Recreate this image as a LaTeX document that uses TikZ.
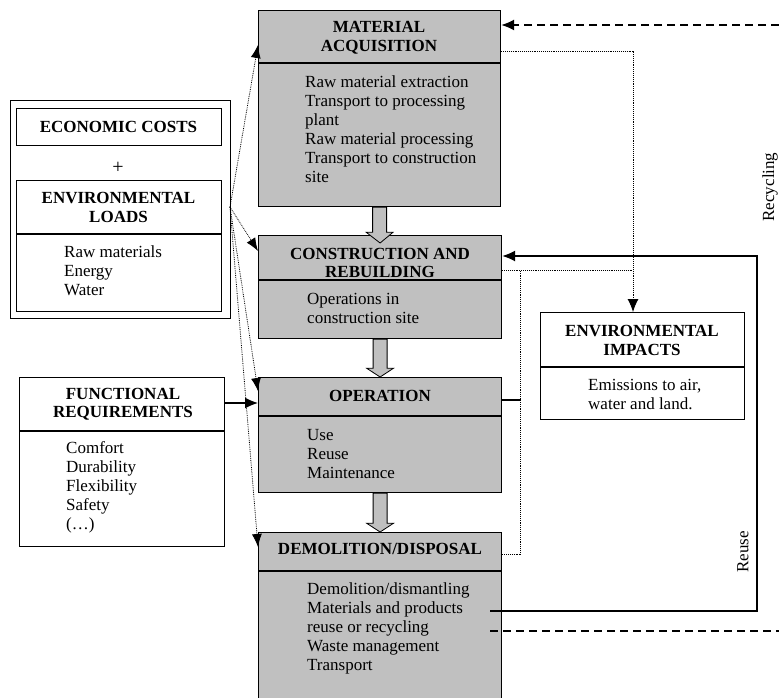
\documentclass[tikz,border=0pt]{standalone}
\usepackage{fontspec}
\setmainfont{Liberation Serif}
\usetikzlibrary{calc,arrows.meta}
\definecolor{boxgray}{RGB}{192,192,192}
\begin{document}
\begin{tikzpicture}[x=1pt,y=-1pt,
  box/.style={draw, line width=1.2pt, inner sep=0pt, anchor=north west},
  gbox/.style={box, fill=boxgray},
  hdr/.style={font=\fontsize{17}{18.5}\selectfont\bfseries, align=center, inner sep=0pt},
  body/.style={font=\fontsize{17}{19}\selectfont, align=left, inner sep=0pt, anchor=west},
  divline/.style={line width=1.2pt},
  fanline/.style={densely dotted, line width=0.8pt, -{Latex[length=13pt,width=10pt]}},
  dotline/.style={densely dotted, line width=0.9pt},
  solidline/.style={line width=1.3pt},
  dashline/.style={dash pattern=on 8pt off 5pt, line width=1.3pt},
  tip/.style={-{Latex[length=13pt,width=11pt]}},
  blockarrow/.style={fill=boxgray, draw, line width=0.8pt},
  vlabel/.style={font=\fontsize{17}{19}\selectfont, rotate=90, inner sep=0pt}
]
\useasboundingbox (0,0) rectangle (779,698);

% ---- central column ----
\node (ma) [gbox, minimum width=242pt, minimum height=196pt] at (258,10) {};
\node (cr) [gbox, minimum width=243pt, minimum height=103pt] at (258,235) {};
\node (op) [gbox, minimum width=243pt, minimum height=115pt] at (258,377) {};
\node (dd) [gbox, minimum width=243pt, minimum height=180pt] at (258,532) {};

\draw[divline] ($(ma.north west)+(0,53)$) -- ($(ma.north east)+(0,53)$);
\draw[divline] ($(cr.north west)+(0,45)$) -- ($(cr.north east)+(0,45)$);
\draw[divline] ($(op.north west)+(0,39)$) -- ($(op.north east)+(0,39)$);
\draw[divline] ($(dd.north west)+(0,39)$) -- ($(dd.north east)+(0,39)$);

\node (mah) [hdr] at (379,38) {MATERIAL\\ACQUISITION};
\node (mab) [body] at (305,129.5) {Raw material extraction\\Transport to processing\\plant\\Raw material processing\\Transport to construction\\site};
\node (crh) [hdr] at (380,263) {CONSTRUCTION AND\\REBUILDING};
\node (crb) [body] at (307,308) {Operations in\\construction site};
\node (oph) [hdr] at (380,396) {OPERATION};
\node (opb) [body] at (307,454) {Use\\Reuse\\Maintenance};
\node (ddh) [hdr] at (380,549) {DEMOLITION/DISPOSAL};
\node (ddb) [body] at (307,628) {Demolition/dismantling\\Materials and products\\reuse or recycling\\Waste management\\Transport};

% block arrows
\draw[blockarrow] ($(ma.south)+(-7,0)$) -- ($(ma.south)+(7,0)$) -- ($(ma.south)+(7,25)$) -- ($(ma.south)+(13.5,25)$)
  -- ($(cr.north)+(0,8)$) -- ($(ma.south)+(-13.5,25)$) -- ($(ma.south)+(-7,25)$) -- cycle;
\draw[blockarrow] ($(cr.south)+(-7,0)$) -- ($(cr.south)+(7,0)$) -- ($(cr.south)+(7,29)$) -- ($(cr.south)+(13.5,29)$)
  -- (op.north) -- ($(cr.south)+(-13.5,29)$) -- ($(cr.south)+(-7,29)$) -- cycle;
\draw[blockarrow] ($(op.south)+(-7,0)$) -- ($(op.south)+(7,0)$) -- ($(op.south)+(7,30)$) -- ($(op.south)+(13.5,30)$)
  -- (dd.north) -- ($(op.south)+(-13.5,30)$) -- ($(op.south)+(-7,30)$) -- cycle;

% ---- left boxes ----
\node (outer) [box, minimum width=220pt, minimum height=218pt] at (10,100) {};
\node (ec) [box, minimum width=205pt, minimum height=37pt] at (16,108) {};
\node (ech) [hdr] at (118.5,126.5) {ECONOMIC COSTS};
\node (plus) [font=\fontsize{20}{22}\selectfont, inner sep=0pt] at (118,168) {+};
\node (el) [box, minimum width=205pt, minimum height=131pt] at (16,180) {};
\draw[divline] ($(el.north west)+(0,54)$) -- ($(el.north east)+(0,54)$);
\node (elh) [hdr] at (118.5,207.5) {ENVIRONMENTAL\\LOADS};
\node (elb) [body] at (64,271) {Raw materials\\Energy\\Water};

\node (fr) [box, minimum width=205pt, minimum height=169pt] at (19,377) {};
\draw[divline] ($(fr.north west)+(0,54)$) -- ($(fr.north east)+(0,54)$);
\node (frh) [hdr] at (123,404) {FUNCTIONAL\\REQUIREMENTS};
\node (frb) [body] at (66,487) {Comfort\\Durability\\Flexibility\\Safety\\(\dots)};

% ---- environmental impacts ----
\node (ei) [box, minimum width=204pt, minimum height=107pt] at (540,312) {};
\draw[divline] ($(ei.north west)+(0,55)$) -- ($(ei.north east)+(0,55)$);
\node (eih) [hdr] at (642,340.5) {ENVIRONMENTAL\\IMPACTS};
\node (eib) [body] at (588,394.5) {Emissions to air,\\water and land.};

% ---- fan of arrows ----
\coordinate (fan) at (230,207);
\draw[fanline] (fan) -- ($(ma.north west)+(0,35)$);
\draw[fanline] (fan) -- ($(cr.north west)+(0,16)$);
\draw[fanline] (fan) -- ($(op.north west)+(0,14)$);
\draw[fanline] (fan) -- ($(dd.north west)+(0,15)$);
\draw[solidline, tip] ($(fr.north east)+(0,26)$) -- ($(op.north west)+(0,26)$);

% ---- dotted flows to impacts ----
\coordinate (cx) at (633,270);
\coordinate (vx) at (520,270);
\draw[dotline, tip] ($(ma.north east)+(0,41)$) -| ($(ei.north west)+(93,0)$);
\draw[dotline] ($(cr.north east)+(0,35)$) -- (cx);
\draw[dotline] ($(dd.north east)+(0,22)$) -| (vx);
\draw[solidline] ($(op.north east)+(0,23)$) -- ++(19,0);

% ---- reuse loop ----
\coordinate (rb) at (757,611);
\coordinate (rt) at (757,256);
\draw[solidline, tip] ($(dd.north west)+(232,79)$) -- (rb) -- (rt) -- ($(cr.north east)+(0,21)$);
\node (reuse) [vlabel] at (743,552) {Reuse};

% ---- recycling loop ----
\coordinate (rcb) at (779,631);
\coordinate (rct) at (779,25);
\draw[dashline] ($(dd.north west)+(232,99)$) -- (rcb);
\draw[dashline, tip] (rct) -- ($(ma.north east)+(0,15)$);
\node (recy) [vlabel] at (770,187) {Recycling};
\end{tikzpicture}
\end{document}
